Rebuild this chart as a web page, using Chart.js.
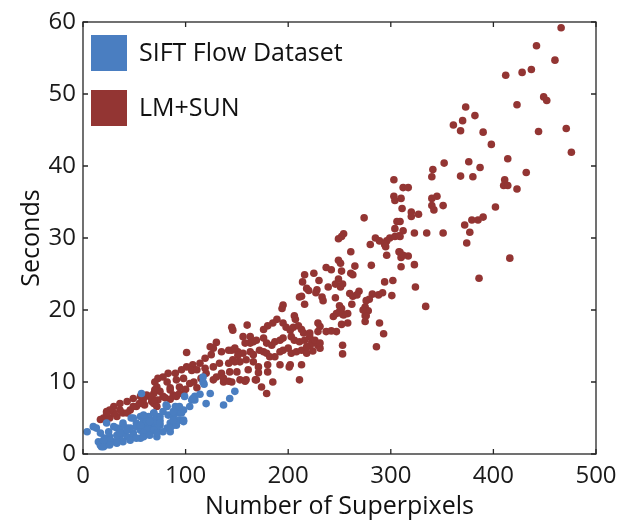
<!DOCTYPE html>
<html><head><meta charset="utf-8">
<script src="https://cdn.jsdelivr.net/npm/chart.js@4/dist/chart.umd.min.js"></script>
<style>html,body{margin:0;padding:0;background:#fff}#wrap{width:629px;height:520px}</style>
</head><body><div id="wrap"><canvas id="c" width="629" height="520"></canvas></div>
<script>
const seriesLabels = ['SIFT Flow Dataset', 'LM+SUN'];
const seriesColors = ['#4a7ec1', '#933533'];
const xTicks = [0, 100, 200, 300, 400, 500];
const yTicks = [0, 10, 20, 30, 40, 50, 60];
const xTitle = 'Number of Superpixels';
const yTitle = 'Seconds';

// [superpixels, seconds]
const siftFlow = [
[117,10.7],[117,10.0],[118,9.7],[114,8.3],[109,8.0],[106,7.5],[99,8.0],[104,6.6],[120,7.0],[124,8.4],[137,6.8],[143,7.7],[148,8.7],
[90,6.6],[82,6.6],[91,5.7],[83,5.4],[75,5.2],[69,4.7],[94,4.7],[85,4.3],[75,4.0],[67,3.8],[98,6.1],
[57,8.4],[4,3.1],[13,3.6],[17,2.9],[15,1.7],[18,1.0],[23,1.3],[30,1.7],[36,2.2],[43,2.4],[49,2.9],[56,3.3],[62,3.8],[69,4.3],
[72,5.2],[64,5.2],[56,5.2],[47,5.0],[39,4.0],[33,3.6],[25,3.1],[26,2.4],[21,2.2],[10,3.8],[46,3.6],[52,4.3],[59,4.5],[65,3.1],
[39,2.9],[33,2.6],[72,3.6],[23,4.3],[109,7.5],[91,6.4],[98,4.7],[69,5.7],[62,3.3],[88,5.2],[36,3.3],[17,1.3],
[26,1.9],[49,2.6],[59,2.9],[69,3.3],[82,3.6],[88,4.0],[52,3.8],[43,3.6],[62,4.5],[75,4.7],[94,5.7],[20,1.5],[33,1.7],[56,2.2],[72,2.4],[85,3.1],
[17,1.25],[20,1.0],[26,1.25],[33,1.5],[39,1.7],[46,1.9],[52,2.2],[59,2.4],[65,2.6],[72,2.9],[78,3.1],[85,3.6],[91,4.0],[98,4.5],
[30,3.8],[39,4.3],[49,5.0],[59,5.4],[69,5.7],[78,5.9],[88,5.9],[96,5.7],[107,7.7],[94,6.6],
[36,2.9],[75,4.3],[88,4.7],[65,4.5],[56,4.0],[43,3.3],[20,1.9],[81,6.8]
];

const lmSun = [
[466,59.2],[442,56.7],[460,54.7],[412,52.6],[428,53.0],[437,53.4],[449,49.6],[452,49.1],[423,48.5],[444,44.8],[471,45.2],[398,43.0],
[476,41.9],[414,41.0],[432,39.1],[411,38.1],[410,37.3],[414,37.3],[423,36.8],[402,34.3],[416,27.2],
[373,48.2],[382,47.0],[370,46.3],[361,45.7],[368,44.9],[390,44.7],[352,40.4],[376,40.6],[387,39.8],[341,39.5],[340,38.5],[368,38.6],
[380,38.5],[312,37.0],[317,37.0],[310,35.5],[345,35.8],[340,35.5],[340,34.5],[342,33.9],[351,34.5],[311,34.1],[320,33.6],[320,33.0],
[327,33.3],[309,32.3],[312,31.0],[309,30.2],[323,30.7],[335,30.7],[351,30.7],[372,31.8],[379,32.5],[385,32.5],[390,32.9],[377,30.8],
[374,29.3],[309,28.0],[317,27.5],[310,27.3],[310,26.0],[323,26.3],[386,24.4],[324,23.2],
[303,38.1],[303,35.8],[304,35.2],[274,32.8],[306,32.3],[304,31.3],[254,30.6],[252,30.2],[249,29.9],[285,30.0],[289,29.6],[280,29.1],
[299,30.0],[304,30.2],[308,30.3],[296,29.6],[294,29.1],[295,28.8],[261,28.1],[308,28.1],[312,27.6],[296,27.6],[249,26.9],[251,26.5],
[237,25.9],[242,25.6],[252,25.4],[265,26.1],[281,26.2],[216,24.9],[214,23.9],[225,25.1],[261,25.1],[263,24.9],[230,24.1],[249,24.3],
[246,23.6],[253,23.6],[251,23.2],[294,23.9],[302,24.1],[218,23.0],[220,22.7],[228,22.8],[239,23.2],[260,22.3],[263,21.9],[269,22.6],
[267,22.1],[282,22.2],[288,22.1],[292,22.4],[279,21.5],[276,21.3],[301,22.0],[213,21.9],[233,21.8],[234,21.3],[246,21.7],[262,20.8],
[250,20.6],[252,20.2],[216,20.8],[275,20.4],[278,19.9],[275,19.2],[244,19.1],[247,19.5],[253,19.4],[258,19.5],
[211,21.8],[227,22.4],[195,20.7],[194,20.2],[206,19.2],[207,18.7],[189,18.7],[185,18.2],[180,17.8],[176,17.3],[195,18.2],[198,17.6],
[202,17.2],[205,17.6],[210,17.8],[213,17.3],[215,16.8],[221,16.3],[223,15.6],[229,18.2],[231,17.7],[237,17.0],[160,17.9],[145,17.6],
[156,16.3],[163,16.3],[169,15.8],[163,15.4],[158,15.4],[176,16.1],[179,15.4],[184,15.1],[187,15.6],[192,15.8],[195,16.1],[203,16.3],
[206,15.8],[211,15.6],[216,15.8],[224,15.4],[229,15.1],[231,14.7],
[145,14.4],[151,14.2],[156,14.0],[163,14.2],[166,13.8],[172,14.4],[176,14.2],[179,14.0],[182,13.5],[187,13.5],[192,14.2],[195,14.4],
[200,14.7],[203,14.0],[208,14.2],[213,14.4],[218,14.0],[224,14.3],
[146,13.1],[153,12.8],[159,13.1],[166,12.8],[171,12.1],[180,12.4],[192,12.4],[202,12.4],[213,12.4],
[150,11.4],[161,11.7],[171,11.3],[180,11.4],[185,10.0],[211,10.3],[169,10.3],[153,10.3],[174,9.3],
[334,20.5],[286,14.9],[293,16.7],[289,18.2],[275,18.4],[276,19.2],[273,20.0],[253,15.1],[253,13.9],[247,17.0],[242,17.1],[258,18.2],
[252,18.0],[254,19.3],[250,19.8],[229,17.0],[221,16.8],[226,15.8],[231,15.4],[221,15.0],[218,14.9],[201,12.1],[179,8.4],[159,10.3],
[130,15.5],[124,14.9],[127,14.7],[101,14.1],[119,13.3],[125,13.8],[135,14.2],[142,14.4],[148,14.7],[151,13.7],
[114,12.6],[107,12.4],[101,12.1],[96,11.7],[90,11.2],[83,11.2],[78,10.7],[73,10.5],[70,10.0],[72,9.3],[82,10.0],[91,10.3],[98,10.5],
[106,11.6],[111,11.7],[119,11.9],[127,12.1],[133,12.6],[142,12.6],[148,12.8],[143,11.4],[135,11.2],[130,10.7],[137,10.0],[145,10.0],
[127,10.3],[120,11.2],
[69,8.4],[75,8.7],[85,9.2],[94,9.3],[104,9.8],[111,9.2],[98,8.4],[88,8.2],[78,8.0],[73,7.5],[67,7.3],
[70,8.9],[62,8.2],[56,8.0],[49,7.7],[43,7.3],[36,7.0],[30,6.6],[23,5.9],[20,5.0],[26,5.0],[33,5.2],[39,5.7],[46,6.1],[52,6.6],[60,6.8],
[69,7.0],[59,7.7],[36,6.1],[30,5.7],
[146,17.2],[166,15.6],[158,10.1],[168,10.3],[142,10.1],[137,10.5],
[17,4.8],[26,6.1],[23,5.7],[43,5.7],[49,6.6],[59,7.0],[69,7.5],[72,6.6],[85,7.6],[91,8.0],[85,8.9],[94,8.4],[80,7.8],[65,8.0],[55,7.0],
[100,9.0],[108,10.0],[115,10.5]
];

const FONT = '"Open Sans", "DejaVu Sans", sans-serif';

const toPoints = arr => arr.map(p => ({x: p[0], y: p[1]}));

const frameAndLegend = {
  id: 'frameAndLegend',
  afterDatasetsDraw(chart) {
    const {ctx, chartArea: a, scales} = chart;
    ctx.save();
    ctx.strokeStyle = '#262626';
    ctx.lineWidth = 1.3;
    ctx.strokeRect(a.left, a.top, a.right - a.left, a.bottom - a.top);
    const tl = 5;
    ctx.beginPath();
    xTicks.forEach(v => {
      const px = scales.x.getPixelForValue(v);
      ctx.moveTo(px, a.bottom); ctx.lineTo(px, a.bottom - tl);
      ctx.moveTo(px, a.top); ctx.lineTo(px, a.top + tl);
    });
    yTicks.forEach(v => {
      const py = scales.y.getPixelForValue(v);
      ctx.moveTo(a.left, py); ctx.lineTo(a.left + tl, py);
      ctx.moveTo(a.right, py); ctx.lineTo(a.right - tl, py);
    });
    ctx.stroke();
    // legend
    const bx = a.left + 8, box = 36;
    ctx.font = '25px ' + FONT;
    ctx.textBaseline = 'middle';
    ctx.textAlign = 'left';
    seriesLabels.forEach((lab, i) => {
      const by = a.top + 13 + i * 55;
      ctx.fillStyle = seriesColors[i];
      ctx.fillRect(bx, by, box, box);
      ctx.fillStyle = '#111';
      ctx.fillText(lab, bx + box + 12, by + box / 2 + 1);
    });
    ctx.restore();
  }
};

new Chart(document.getElementById('c'), {
  type: 'scatter',
  data: {
    datasets: [
      {label: seriesLabels[0], data: toPoints(siftFlow), backgroundColor: seriesColors[0], borderWidth: 0, pointRadius: 3.8, pointHoverRadius: 3.8},
      {label: seriesLabels[1], data: toPoints(lmSun), backgroundColor: seriesColors[1], borderWidth: 0, pointRadius: 3.8, pointHoverRadius: 3.8}
    ]
  },
  options: {
    responsive: false,
    animation: false,
    devicePixelRatio: 1,
    layout: {padding: {top: 22, right: 33, left: 0, bottom: 0}},
    plugins: {legend: {display: false}, tooltip: {enabled: false}},
    scales: {
      x: {
        type: 'linear', min: 0, max: 500,
        afterBuildTicks: s => { s.ticks = xTicks.map(v => ({value: v})); },
        afterFit: s => { s.height = 66; },
        grid: {display: false, drawTicks: false},
        border: {display: false},
        ticks: {color: '#1a1a1a', font: {family: FONT, size: 24}, padding: 8, maxRotation: 0},
        title: {display: true, text: xTitle, color: '#111', font: {family: FONT, size: 25, lineHeight: 1}, padding: {top: 0, bottom: 1}}
      },
      y: {
        type: 'linear', min: 0, max: 60,
        afterBuildTicks: s => { s.ticks = yTicks.map(v => ({value: v})); },
        afterFit: s => { s.width = 83; },
        grid: {display: false, drawTicks: false},
        border: {display: false},
        ticks: {color: '#1a1a1a', font: {family: FONT, size: 24}, padding: 7},
        title: {display: true, text: yTitle, color: '#111', font: {family: FONT, size: 25}, padding: {top: 17, bottom: 0}}
      }
    }
  },
  plugins: [frameAndLegend]
});
</script></body></html>
